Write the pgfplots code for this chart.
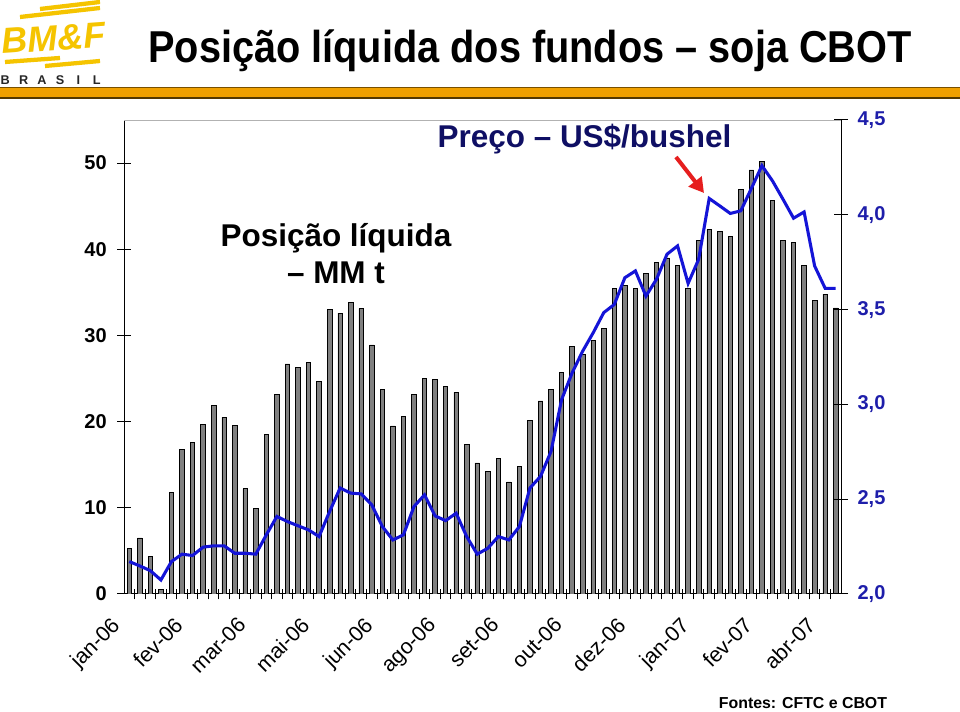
\documentclass[border=0pt]{standalone}
\usepackage{graphicx}
\usepackage{pgfplots}
\usepackage{pgfplotstable}
\pgfplotsset{compat=1.18}
\usepackage{fontspec}
\setmainfont{Liberation Sans}
\usetikzlibrary{arrows.meta}
\definecolor{barfill}{RGB}{128,128,128}
\definecolor{lineblue}{RGB}{20,20,215}
\definecolor{rlabel}{RGB}{30,30,170}
\definecolor{navy}{RGB}{15,15,100}
\definecolor{arrowred}{RGB}{230,30,30}
\definecolor{logoyellow}{RGB}{245,196,0}
\definecolor{bandorange}{RGB}{240,160,0}
\definecolor{bandbrown}{RGB}{120,80,0}

\pgfplotstableread{
i v
1 5.3
2 6.5
3 4.4
4 0.5
5 11.8
6 16.8
7 17.6
8 19.7
9 21.9
10 20.5
11 19.6
12 12.2
13 9.9
14 18.5
15 23.2
16 26.7
17 26.3
18 26.9
19 24.7
20 33.0
21 32.6
22 33.8
23 33.1
24 28.9
25 23.7
26 19.5
27 20.6
28 23.2
29 25.0
30 24.9
31 24.1
32 23.4
33 17.4
34 15.2
35 14.2
36 15.7
37 13.0
38 14.8
39 20.1
40 22.4
41 23.7
42 25.7
43 28.7
44 27.8
45 29.4
46 30.8
47 35.5
48 35.8
49 35.5
50 37.2
51 38.5
52 39.0
53 38.1
54 35.5
55 41.0
56 42.3
57 42.1
58 41.5
59 46.9
60 49.2
61 50.2
62 45.7
63 41.0
64 40.8
65 38.1
66 34.1
67 34.8
68 33.2
}\bars

\pgfplotstableread{
i p
1 2.171
2 2.148
3 2.123
4 2.074
5 2.171
6 2.210
7 2.203
8 2.247
9 2.254
10 2.254
11 2.215
12 2.215
13 2.210
14 2.312
15 2.409
16 2.382
17 2.360
18 2.338
19 2.303
20 2.435
21 2.559
22 2.532
23 2.528
24 2.470
25 2.356
26 2.285
27 2.312
28 2.461
29 2.523
30 2.412
31 2.387
32 2.426
33 2.303
34 2.210
35 2.241
36 2.303
37 2.285
38 2.356
39 2.559
40 2.620
41 2.752
42 3.025
43 3.166
44 3.281
45 3.378
46 3.484
47 3.527
48 3.668
49 3.704
50 3.571
51 3.660
52 3.792
53 3.836
54 3.638
55 3.765
56 4.086
57 4.047
58 4.007
59 4.021
60 4.139
61 4.259
62 4.179
63 4.082
64 3.982
65 4.015
66 3.730
67 3.612
68 3.612
}\price

\begin{document}
\begin{tikzpicture}
\fill[white] (0,0) rectangle (720pt,534pt);
\useasboundingbox (0,0) rectangle (720pt,534pt);

\begin{axis}[
  at={(93pt,88.5pt)}, anchor=south west,
  scale only axis, width=537.75pt, height=355.5pt,
  xmin=0.5, xmax=68.5, ymin=0, ymax=55,
  axis x line*=bottom, axis y line*=left,
  axis line style={-, line width=0.75pt, black},
  tick align=center,
  major tick length=10.5pt, minor tick length=8pt,
  tick style={line width=0.75pt, black},
  major x tick style={draw=none},
  xtick={1,7,13,19,25,31,37,43,49,55,61,67},
  xticklabels={jan-06,fev-06,mar-06,mai-06,jun-06,ago-06,set-06,out-06,dez-06,jan-07,fev-07,abr-07},
  minor xtick={1.5,2.5,...,67.5},
  xticklabel style={font=\fontsize{16}{16}\selectfont, inner sep=0pt, xshift=-14.5pt, yshift=-11pt, rotate=45, anchor=north east},
  ytick={0,10,20,30,40,50},
  yticklabels={0,10,20,30,40,50},
  yticklabel style={font=\fontsize{15}{15}\selectfont\bfseries, inner sep=0pt, xshift=-7.5pt},
]
\addplot[ybar, bar width=3.4pt, fill=barfill, draw=black, line width=0.55pt] table[x=i, y=v] {\bars};
\end{axis}

\begin{axis}[
  at={(93pt,88.5pt)}, anchor=south west,
  scale only axis, width=537.75pt, height=355.5pt,
  xmin=0.5, xmax=68.5, ymin=2, ymax=4.5,
  axis x line=none, axis y line*=right,
  axis line style={-, line width=0.75pt, black},
  tick align=center,
  major tick length=10.5pt,
  tick style={line width=0.75pt, black},
  ytick={2,2.5,3,3.5,4,4.5},
  yticklabels={{2,0},{2,5},{3,0},{3,5},{4,0},{4,5}},
  yticklabel style={font=\fontsize{15}{15}\selectfont\bfseries, text=rlabel, inner sep=0pt, xshift=7pt},
]
\addplot[color=lineblue, line width=2.3pt, mark=none] table[x=i, y=p] {\price};
\end{axis}

\begin{scope}[x=0.75pt, y=-0.75pt, yshift=534pt]
  % top border of plot area
  \draw[gray!60, line width=0.6pt] (124,120) -- (841,120);
  % orange band
  \fill[bandorange] (0,87) rectangle (960,98);
  \draw[bandbrown, line width=0.6pt] (0,87) -- (960,87);
  \draw[bandbrown!70!black, line width=0.9pt] (0,98) -- (960,98);
  % logo
  \foreach \a/\b/\c/\d in {40/9/100/2, 20/17/100/8, 5/62/60/58, 45/66/100/61} {
    \draw[logoyellow, line width=3.2pt] (\a,\b) -- (\c,\d);
  }
  \node[anchor=base west, inner sep=0, rotate=4, text=logoyellow] at (2,54)
    {\fontsize{27}{27}\selectfont\bfseries\itshape BM\&F};
  \foreach \ch [count=\k] in {B,R,A,S,I,L} {
    \node[anchor=base, inner sep=0, text=black!85] at ({-13+\k*18.3},85)
      {\fontsize{9.5}{9.5}\selectfont\bfseries \ch};
  }
  % title
  \node[anchor=base, inner sep=0] at (530,63)
    {\scalebox{0.889}[1]{\fontsize{33.5}{33.5}\selectfont\bfseries Posição líquida dos fundos – soja CBOT}};
  % annotations
  \node[anchor=base, inner sep=0] at (336,247)
    {\fontsize{23.6}{23.6}\selectfont\bfseries Posição líquida};
  \node[anchor=base, inner sep=0] at (336,284)
    {\fontsize{23.6}{23.6}\selectfont\bfseries – MM t};
  \node[anchor=base, inner sep=0, text=navy] at (584.5,148)
    {\fontsize{23.6}{23.6}\selectfont\bfseries Preço – US\$/bushel};
  \draw[arrowred, line width=3pt, -{Triangle[length=11pt, width=12pt]}] (676,157) -- (704,193);
  \node[anchor=base, inner sep=0] at (803,709)
    {\fontsize{11.9}{11.9}\selectfont\bfseries Fontes: CFTC e CBOT};
\end{scope}
\end{tikzpicture}
\end{document}
